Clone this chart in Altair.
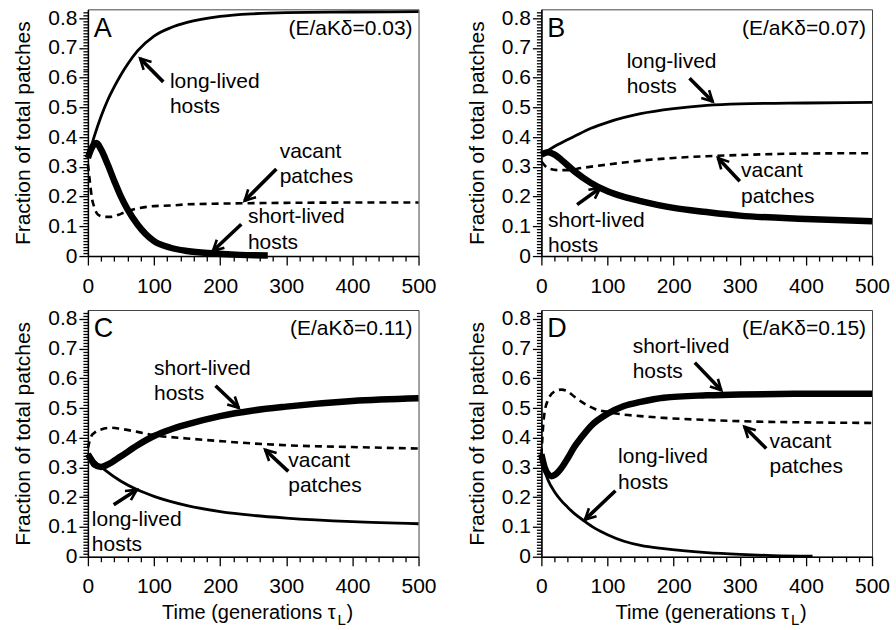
import math
import altair as alt
import pandas as pd

FONT = "Liberation Sans"
W = 331
H = 247
YMAX = 0.83

# ---------------- series values ----------------
# Panel A
A_long_t = [0, 10, 20, 30, 40, 50, 60, 75, 100, 125, 150, 200, 250, 300, 400, 500]
A_long_v = [0.33, 0.405, 0.47, 0.525, 0.57, 0.61, 0.645, 0.69, 0.74, 0.768, 0.786, 0.806, 0.815, 0.819, 0.821, 0.822]
A_short_t = [0, 5, 13, 20, 30, 40, 50, 60, 75, 100, 125, 150, 190, 230, 272]
A_short_v = [0.33, 0.36, 0.38, 0.358, 0.308, 0.252, 0.20, 0.157, 0.106, 0.05, 0.028, 0.017, 0.009, 0.004, 0.002]
A_vac_t = [0, 3, 6, 10, 15, 25, 35, 50, 60, 75, 100, 125, 150, 190, 250, 300, 400, 500]
A_vac_v = [0.31, 0.25, 0.196, 0.162, 0.14, 0.132, 0.132, 0.142, 0.151, 0.16, 0.168, 0.17, 0.174, 0.176, 0.178, 0.179, 0.18, 0.18]

# Panel B
B_long_t = [0, 25, 50, 75, 100, 150, 200, 250, 300, 400, 500]
B_long_v = [0.341, 0.375, 0.403, 0.43, 0.45, 0.479, 0.496, 0.507, 0.512, 0.515, 0.517]
B_short_t = [0, 10, 20, 30, 50, 75, 100, 125, 150, 200, 250, 300, 400, 500]
B_short_v = [0.341, 0.349, 0.341, 0.324, 0.285, 0.246, 0.218, 0.199, 0.185, 0.162, 0.148, 0.136, 0.125, 0.117]
B_vac_t = [0, 10, 25, 40, 60, 100, 150, 200, 250, 300, 400, 500]
B_vac_v = [0.318, 0.296, 0.289, 0.289, 0.296, 0.308, 0.321, 0.33, 0.336, 0.34, 0.345, 0.346]

# Panel C
C_long_t = [0, 10, 25, 50, 75, 100, 150, 200, 250, 300, 400, 500]
C_long_v = [0.346, 0.321, 0.293, 0.254, 0.225, 0.203, 0.172, 0.152, 0.139, 0.13, 0.118, 0.111]
C_short_t = [0, 5, 10, 20, 30, 50, 75, 100, 125, 150, 200, 250, 300, 400, 500]
C_short_v = [0.345, 0.327, 0.31, 0.302, 0.31, 0.338, 0.375, 0.406, 0.428, 0.445, 0.473, 0.492, 0.505, 0.524, 0.533]
C_vac_t = [0, 5, 10, 20, 35, 50, 75, 100, 150, 200, 250, 300, 400, 500]
C_vac_v = [0.365, 0.405, 0.417, 0.428, 0.434, 0.43, 0.42, 0.409, 0.398, 0.389, 0.381, 0.375, 0.369, 0.364]

# Panel D
D_long_t = [0, 5, 10, 20, 30, 40, 50, 65, 80, 100, 125, 150, 185, 250, 300, 350, 410]
D_long_v = [0.345, 0.29, 0.258, 0.218, 0.189, 0.166, 0.145, 0.12, 0.097, 0.074, 0.052, 0.038, 0.027, 0.014, 0.008, 0.004, 0.002]
D_short_t = [0, 5, 10, 15, 20, 30, 40, 50, 60, 75, 100, 125, 150, 185, 250, 300, 400, 500]
D_short_v = [0.345, 0.30, 0.278, 0.271, 0.275, 0.298, 0.332, 0.37, 0.40, 0.44, 0.481, 0.507, 0.521, 0.535, 0.543, 0.546, 0.548, 0.548]
D_vac_t = [0, 3, 6, 10, 20, 30, 40, 50, 65, 80, 100, 125, 150, 185, 250, 300, 400, 500]
D_vac_v = [0.34, 0.45, 0.50, 0.527, 0.556, 0.562, 0.556, 0.538, 0.515, 0.498, 0.487, 0.478, 0.473, 0.467, 0.46, 0.456, 0.452, 0.45]

# ---------------- annotation texts (data coordinates) ----------------
A_lab_text = ["long-lived", "hosts", "vacant", "patches", "short-lived", "hosts"]
A_lab_t = [124, 124, 290, 290, 242, 242]
A_lab_v = [0.586, 0.50, 0.35, 0.265, 0.13, 0.045]
A_arr_t0 = [114, 285, 232]
A_arr_v0 = [0.586, 0.293, 0.107]
A_arr_t1 = [79, 237, 189]
A_arr_v1 = [0.665, 0.186, 0.017]

B_lab_text = ["long-lived", "hosts", "vacant", "patches", "short-lived", "hosts"]
B_lab_t = [129, 129, 302, 302, 10, 10]
B_lab_v = [0.654, 0.568, 0.285, 0.199, 0.117, 0.034]
B_arr_t0 = [224, 300, 54]
B_arr_v0 = [0.598, 0.252, 0.173]
B_arr_t1 = [259, 267, 89]
B_arr_v1 = [0.52, 0.33, 0.229]

C_lab_text = ["short-lived", "hosts", "vacant", "patches", "long-lived", "hosts"]
C_lab_t = [100, 100, 303, 303, 6, 6]
C_lab_v = [0.631, 0.549, 0.321, 0.239, 0.124, 0.039]
C_arr_t0 = [193, 303, 39]
C_arr_v0 = [0.575, 0.287, 0.175]
C_arr_t1 = [228, 268, 74]
C_arr_v1 = [0.501, 0.36, 0.225]

D_lab_text = ["short-lived", "hosts", "vacant", "patches", "long-lived", "hosts"]
D_lab_t = [138, 138, 345, 345, 116, 116]
D_lab_v = [0.705, 0.622, 0.386, 0.301, 0.335, 0.247]
D_arr_t0 = [232, 340, 112]
D_arr_v0 = [0.653, 0.364, 0.222]
D_arr_t1 = [272, 307, 66]
D_arr_v1 = [0.56, 0.4375, 0.125]

PANEL_LETTERS = ["A", "B", "C", "D"]
PANEL_PARAMS = ["(E/aKδ=0.03)", "(E/aKδ=0.07)", "(E/aKδ=0.11)", "(E/aKδ=0.15)"]

X_TICKS = list(range(0, 501, 20))
Y_TICKS = [round(i * 0.01, 2) for i in range(0, 83)]

MAJ_Y = "abs(datum.value*10 - round(datum.value*10)) < 0.001"
MAJ_X = "datum.value % 100 === 0"

xaxis = alt.Axis(
    values=X_TICKS,
    labelExpr=f"{MAJ_X} ? datum.label : ''",
    tickSize={"condition": {"test": MAJ_X, "value": 9}, "value": 5},
    labelOverlap=False, labelFlush=False, labelPadding=10,
    title=None, grid=False,
    domainColor="black", domainWidth=1.5,
    tickColor="black", tickWidth=1.3,
    labelFont=FONT, labelFontSize=21, labelColor="black",
)
yaxis = alt.Axis(
    values=Y_TICKS,
    labelExpr=f"{MAJ_Y} ? (datum.value < 0.001 ? '0' : format(datum.value, '.1f')) : ''",
    tickSize={"condition": {"test": MAJ_Y, "value": 9}, "value": 5},
    labelOverlap=False, labelFlush=False, labelPadding=2,
    title="Fraction of total patches", titleFont=FONT, titleFontSize=21,
    titleFontWeight="normal", titleColor="black", titlePadding=14,
    grid=False,
    domainColor="black", domainWidth=1.5,
    tickColor="black", tickWidth=1.3,
    labelFont=FONT, labelFontSize=21, labelColor="black",
)
xscale = alt.Scale(domain=[0, 500], nice=False, zero=False)
yscale = alt.Scale(domain=[0, YMAX], nice=False, zero=False)

XE = alt.X("t:Q", scale=xscale, axis=xaxis)
YE = alt.Y("v:Q", scale=yscale, axis=yaxis)

HEAD_PATH = "M-0.6,1.15L0,0L0.6,1.15"


def series_df(t, v):
    return pd.DataFrame({"t": t, "v": v})


def panel(idx, long_tv, short_tv, vac_tv, lab, arr, bottom):
    lines = [
        alt.Chart(series_df(*vac_tv)).mark_line(
            color="black", strokeWidth=2.6, strokeDash=[7, 5], interpolate="monotone"
        ).encode(x=XE, y=YE),
        alt.Chart(series_df(*long_tv)).mark_line(
            color="black", strokeWidth=2.8, interpolate="monotone"
        ).encode(x=XE, y=YE),
        alt.Chart(series_df(*short_tv)).mark_line(
            color="black", strokeWidth=6.5, interpolate="monotone"
        ).encode(x=XE, y=YE),
    ]
    lab_df = pd.DataFrame({"text": lab[0], "t": lab[1], "v": lab[2]})
    texts = alt.Chart(lab_df).mark_text(
        align="left", baseline="middle", font=FONT, fontSize=21, color="black"
    ).encode(x=XE, y=YE, text="text:N")

    sx = W / 500.0
    sy = H / YMAX
    angles = []
    for t0, v0, t1, v1 in zip(*arr):
        dx = (t1 - t0) * sx
        dy = -(v1 - v0) * sy
        angles.append(math.degrees(math.atan2(dx, -dy)) % 360)
    arr_df = pd.DataFrame({"t": arr[0], "v": arr[1], "t2": arr[2], "v2": arr[3]})
    head_df = pd.DataFrame({"t": arr[2], "v": arr[3], "ang": angles})
    shafts = alt.Chart(arr_df).mark_rule(color="black", strokeWidth=3.6).encode(
        x=XE, y=YE, x2="t2:Q", y2="v2:Q"
    )
    heads = alt.Chart(head_df).mark_point(
        shape=HEAD_PATH, filled=False, color="black", strokeWidth=2.6,
        size=340, opacity=1, strokeJoin="miter", strokeCap="butt"
    ).encode(x=XE, y=YE, angle=alt.Angle("ang:Q", scale=None))

    corner_df = pd.DataFrame({"t": [9], "v": [0.765], "text": [PANEL_LETTERS[idx]]})
    letter = alt.Chart(corner_df).mark_text(
        align="left", baseline="middle", font=FONT, fontSize=27, color="black"
    ).encode(x=XE, y=YE, text="text:N")
    par_df = pd.DataFrame({"t": [491], "v": [0.765], "text": [PANEL_PARAMS[idx]]})
    param = alt.Chart(par_df).mark_text(
        align="right", baseline="middle", font=FONT, fontSize=21, color="black"
    ).encode(x=XE, y=YE, text="text:N")

    layers = lines + [shafts, heads, texts, letter, param]
    if bottom:
        one = pd.DataFrame({"k": [0]})
        layers += [
            alt.Chart(one).mark_text(align="right", baseline="alphabetic", font=FONT,
                                     fontSize=20, color="black").encode(
                x=alt.value(248), y=alt.value(H + 62), text=alt.value("Time (generations τ")),
            alt.Chart(one).mark_text(align="left", baseline="alphabetic", font=FONT,
                                     fontSize=15, color="black").encode(
                x=alt.value(250), y=alt.value(H + 68), text=alt.value("L")),
            alt.Chart(one).mark_text(align="left", baseline="alphabetic", font=FONT,
                                     fontSize=20, color="black").encode(
                x=alt.value(259), y=alt.value(H + 62), text=alt.value(")")),
        ]
    return alt.layer(*layers).properties(width=W, height=H)


pA = panel(0, (A_long_t, A_long_v), (A_short_t, A_short_v), (A_vac_t, A_vac_v),
           (A_lab_text, A_lab_t, A_lab_v), (A_arr_t0, A_arr_v0, A_arr_t1, A_arr_v1), False)
pB = panel(1, (B_long_t, B_long_v), (B_short_t, B_short_v), (B_vac_t, B_vac_v),
           (B_lab_text, B_lab_t, B_lab_v), (B_arr_t0, B_arr_v0, B_arr_t1, B_arr_v1), False)
pC = panel(2, (C_long_t, C_long_v), (C_short_t, C_short_v), (C_vac_t, C_vac_v),
           (C_lab_text, C_lab_t, C_lab_v), (C_arr_t0, C_arr_v0, C_arr_t1, C_arr_v1), True)
pD = panel(3, (D_long_t, D_long_v), (D_short_t, D_short_v), (D_vac_t, D_vac_v),
           (D_lab_text, D_lab_t, D_lab_v), (D_arr_t0, D_arr_v0, D_arr_t1, D_arr_v1), True)

chart = alt.concat(
    pA, pB, pC, pD, columns=2,
    spacing={"row": 54, "column": 123}, bounds="flush"
).properties(
    padding={"left": 12, "top": 0, "right": 5, "bottom": 0},
    background="white",
).configure_view(stroke="#444", strokeWidth=1)

chart.save("out.html", embed_options={"renderer": "svg", "actions": False})
